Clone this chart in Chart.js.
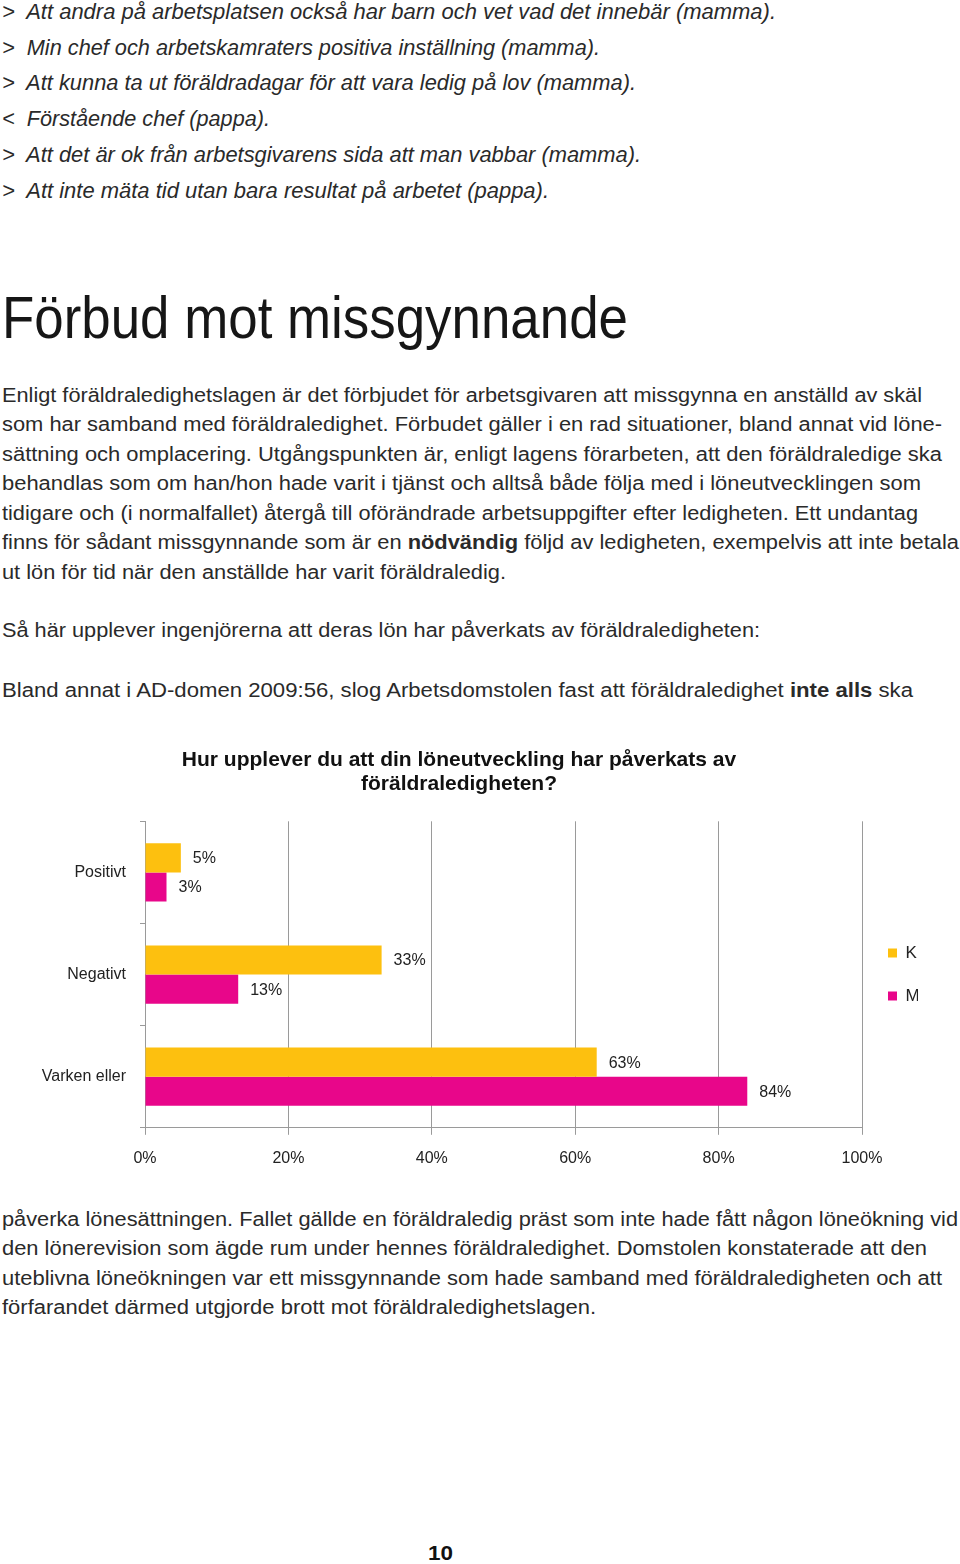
<!DOCTYPE html>
<html lang="sv">
<head>
<meta charset="utf-8">
<title>Förbud mot missgynnande</title>
<script src="https://cdn.jsdelivr.net/npm/chart.js@4.4.0/dist/chart.umd.min.js"></script>
<style>
  html, body { margin: 0; padding: 0; background: #fff; }
  body { width: 960px; height: 1564px; position: relative; overflow: hidden; font-family: "Liberation Sans", Arial, sans-serif; color: #2a2a2a; }
  .ln { position: absolute; left: 2px; white-space: nowrap; line-height: 1.2; transform-origin: 0 50%; }
  .it { font-style: italic; font-size: 22px; }
  .bd { font-size: 20px; }
  .h1 { font-size: 60px; color: #161616; }
  .pg { font-weight: bold; font-size: 21px; color: #111; left: 428px; }
  #chartBox { position: absolute; left: 0; top: 740px; width: 960px; height: 442px; }
</style>
</head>
<body>

<div class="ln it" data-y="12" data-w="774">&gt;&nbsp; Att andra på arbetsplatsen också har barn och vet vad det innebär (mamma).</div>
<div class="ln it" data-y="48" data-w="598">&gt;&nbsp; Min chef och arbetskamraters positiva inställning (mamma).</div>
<div class="ln it" data-y="83" data-w="634">&gt;&nbsp; Att kunna ta ut föräldradagar för att vara ledig på lov (mamma).</div>
<div class="ln it" data-y="119" data-w="268">&lt;&nbsp; Förstående chef (pappa).</div>
<div class="ln it" data-y="155" data-w="639">&gt;&nbsp; Att det är ok från arbetsgivarens sida att man vabbar (mamma).</div>
<div class="ln it" data-y="191" data-w="547">&gt;&nbsp; Att inte mäta tid utan bara resultat på arbetet (pappa).</div>

<div class="ln h1" data-y="318" data-w="626">Förbud mot missgynnande</div>

<div class="ln bd" data-y="395" data-w="920">Enligt föräldraledighetslagen är det förbjudet för arbetsgivaren att missgynna en anställd av skäl</div>
<div class="ln bd" data-y="424" data-w="940">som har samband med föräldraledighet. Förbudet gäller i en rad situationer, bland annat vid löne-</div>
<div class="ln bd" data-y="454" data-w="940">sättning och omplacering. Utgångspunkten är, enligt lagens förarbeten, att den föräldraledige ska</div>
<div class="ln bd" data-y="483" data-w="919">behandlas som om han/hon hade varit i tjänst och alltså både följa med i löneutvecklingen som</div>
<div class="ln bd" data-y="513" data-w="916">tidigare och (i normalfallet) återgå till oförändrade arbetsuppgifter efter ledigheten. Ett undantag</div>
<div class="ln bd" data-y="542" data-w="957">finns för sådant missgynnande som är en <b>nödvändig</b> följd av ledigheten, exempelvis att inte betala</div>
<div class="ln bd" data-y="572" data-w="504">ut lön för tid när den anställde har varit föräldraledig.</div>

<div class="ln bd" data-y="630" data-w="758">Så här upplever ingenjörerna att deras lön har påverkats av föräldraledigheten:</div>
<div class="ln bd" data-y="690" data-w="911">Bland annat i AD-domen 2009:56, slog Arbetsdomstolen fast att föräldraledighet <b>inte alls</b> ska</div>

<div id="chartBox"><canvas id="mycanvas"></canvas></div>

<div class="ln bd" data-y="1219" data-w="956">påverka lönesättningen. Fallet gällde en föräldraledig präst som inte hade fått någon löneökning vid</div>
<div class="ln bd" data-y="1248" data-w="925">den lönerevision som ägde rum under hennes föräldraledighet. Domstolen konstaterade att den</div>
<div class="ln bd" data-y="1278" data-w="940">uteblivna löneökningen var ett missgynnande som hade samband med föräldraledigheten och att</div>
<div class="ln bd" data-y="1307" data-w="594">förfarandet därmed utgjorde brott mot föräldraledighetslagen.</div>

<div class="ln pg" data-y="1553" data-w="25">10</div>

<script>
// chart data
var categories = ["Positivt", "Negativt", "Varken eller"];
var kvinnor = [5, 33, 63];   // K
var man = [3, 13, 84];       // M
var xTicks = [0, 20, 40, 60, 80, 100];
var titleLines = ["Hur upplever du att din löneutveckling har påverkats av", "föräldraledigheten?"];

// place and fit the text lines
var lines = document.querySelectorAll(".ln");
for (var i = 0; i < lines.length; i++) {
	var el = lines[i];
	var fs = parseFloat(getComputedStyle(el).fontSize);
	el.style.top = (parseFloat(el.getAttribute("data-y")) - fs * 0.6) + "px";
	var w = el.getBoundingClientRect().width;
	var target = parseFloat(el.getAttribute("data-w"));
	if (w > 0) el.style.transform = "scaleX(" + (target / w) + ")";
}

var chartFont = "'Liberation Sans', Arial, sans-serif";

// value labels right of each bar
var barLabels = {
	id: "barLabels",
	afterDatasetsDraw: function(chart) {
		var ctx = chart.ctx;
		ctx.save();
		ctx.font = "16px " + chartFont;
		ctx.fillStyle = "#222";
		ctx.textBaseline = "middle";
		chart.data.datasets.forEach(function(ds, di) {
			chart.getDatasetMeta(di).data.forEach(function(bar, j) {
				ctx.fillText(ds.data[j] + "%", bar.x + 12, bar.y + 1);
			});
		});
		ctx.restore();
	}
};

var chartdata = {
	labels: categories,
	datasets: [
		{
			label: "K",
			backgroundColor: "#fdc00f",
			data: kvinnor
		},
		{
			label: "M",
			backgroundColor: "#e8068a",
			data: man
		}
	]
};

var ctx = document.getElementById("mycanvas");

var barGraph = new Chart(ctx, {
	type: "bar",
	data: chartdata,
	plugins: [barLabels],
	options: {
		indexAxis: "y",
		responsive: true,
		maintainAspectRatio: false,
		animation: false,
		categoryPercentage: 0.57,
		barPercentage: 1,
		layout: { padding: { left: 0, right: 42, top: 0, bottom: 0 } },
		plugins: {
			title: {
				display: true,
				text: titleLines,
				color: "#111",
				font: { family: chartFont, size: 21, weight: "bold", lineHeight: 1.15 },
				padding: { top: 8, bottom: 25 }
			},
			legend: {
				position: "right",
				maxWidth: 56,
				title: {
					display: true,
					text: " ",
					font: { size: 10, lineHeight: 1.2 },
					padding: 7.5
				},
				labels: {
					boxWidth: 9,
					boxHeight: 9,
					padding: 26,
					color: "#222",
					font: { family: chartFont, size: 17 }
				}
			},
			tooltip: { enabled: false }
		},
		scales: {
			x: {
				min: 0,
				max: 100,
				afterBuildTicks: function(scale) {
					scale.ticks = xTicks.map(function(v) { return { value: v }; });
				},
				ticks: {
					color: "#222",
					padding: 14,
					font: { family: chartFont, size: 16 },
					callback: function(v) { return v + "%"; }
				},
				grid: { color: "#9a9a9a", tickLength: 7, lineWidth: 1 },
				border: { color: "#9a9a9a" }
			},
			y: {
				afterFit: function(scale) { scale.width = 145; },
				ticks: {
					color: "#222",
					padding: 14,
					font: { family: chartFont, size: 16 }
				},
				grid: { drawOnChartArea: false, drawTicks: true, tickLength: 5, color: "#9a9a9a" },
				border: { color: "#9a9a9a" }
			}
		}
	}
});
</script>
</body>
</html>
